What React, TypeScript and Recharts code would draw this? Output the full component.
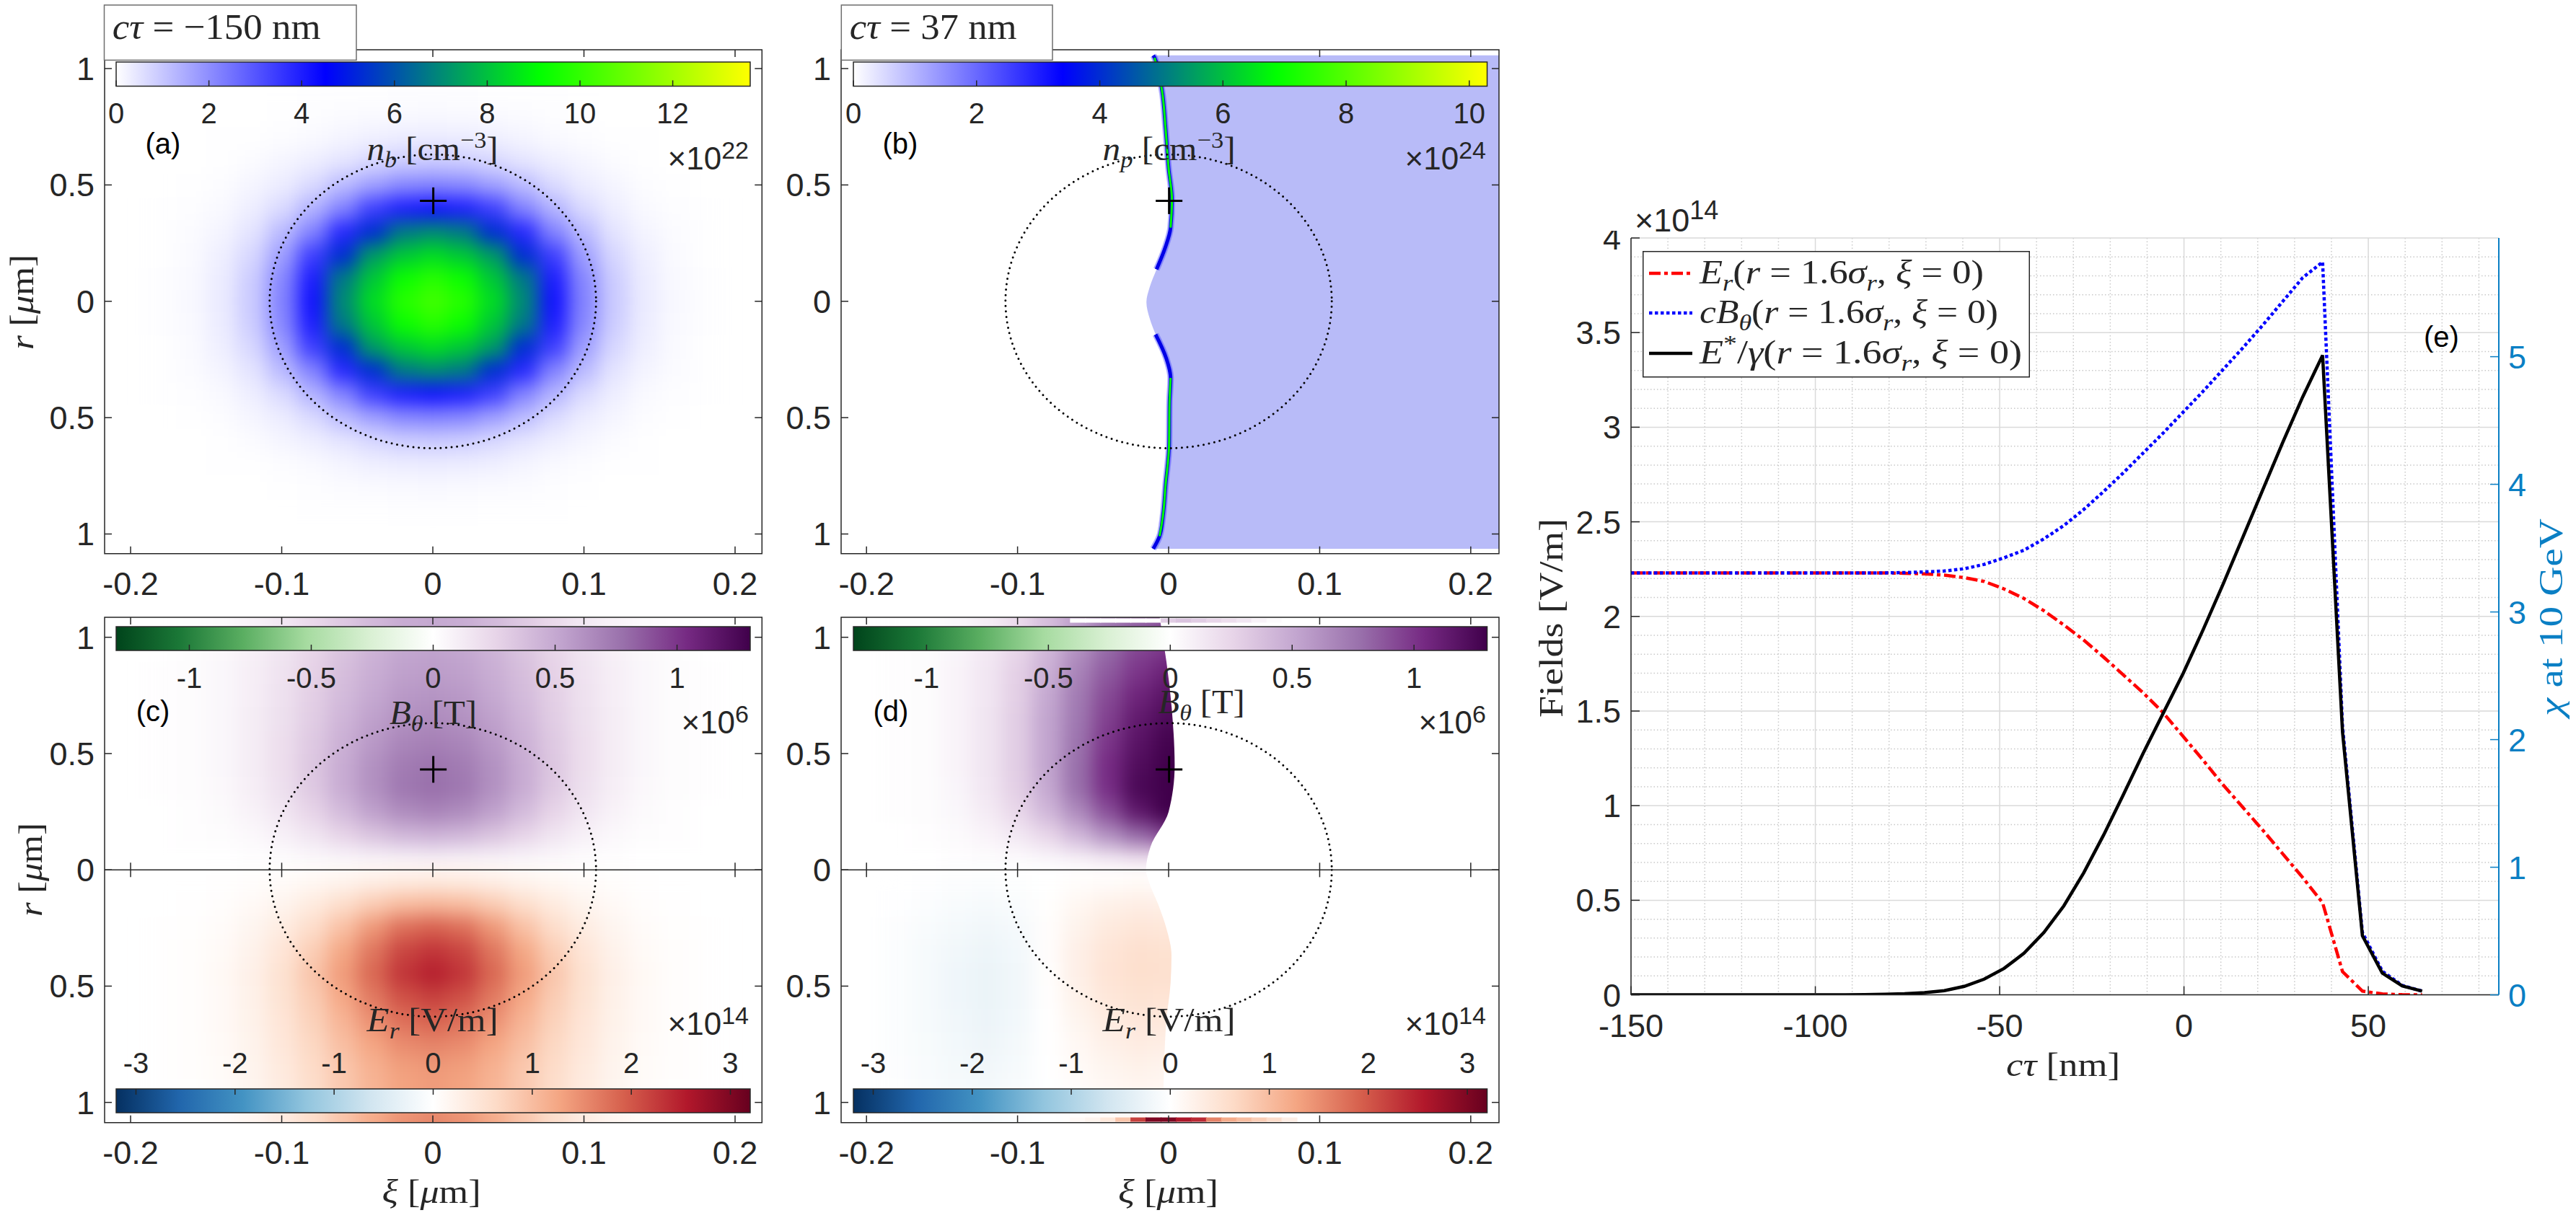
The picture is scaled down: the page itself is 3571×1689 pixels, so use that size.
import React from 'react';
import {
  ScatterChart, Scatter, ComposedChart, Line, Area, XAxis, YAxis, ReferenceArea, ReferenceLine,
  CartesianGrid, Legend
} from 'recharts';

const INK = '#262626';
const SANS = '"Liberation Sans", Arial, sans-serif';
const SERIF = '"Liberation Serif", serif';
const CHI = '#0a7fc4';

// ---- heat map tables ----
// panel (a): n_b / 1e22, quarter of the blob (|xi| columns, |r| rows)
const aCols = [0, 0.02, 0.04, 0.06, 0.08, 0.1, 0.12, 0.14, 0.16, 0.18];
const aRs = [0, 0.1, 0.2, 0.3, 0.4, 0.5, 0.6, 0.7, 0.8, 0.9];
const aRows = [
  [10.3, 9.8, 8.5, 7.0, 4.2, 2.2, 0.93, 0.36, 0.12, 0.03],
  [9.8, 9.3, 8.1, 6.7, 4.0, 2.1, 0.88, 0.33, 0.11, 0.03],
  [8.5, 8.1, 7.3, 5.3, 3.4, 1.7, 0.7, 0.28, 0.09, 0.02],
  [7.0, 6.7, 5.3, 3.8, 2.2, 1.2, 0.48, 0.2, 0.07, 0.01],
  [4.2, 4.0, 3.4, 2.2, 1.35, 0.65, 0.3, 0.11, 0.04, 0.01],
  [2.2, 2.1, 1.7, 1.2, 0.65, 0.33, 0.17, 0.06, 0.01, 0],
  [0.93, 0.88, 0.7, 0.48, 0.3, 0.17, 0.07, 0.02, 0, 0],
  [0.36, 0.33, 0.28, 0.2, 0.11, 0.06, 0.02, 0.01, 0, 0],
  [0.12, 0.11, 0.09, 0.07, 0.04, 0.01, 0, 0, 0, 0],
  [0.03, 0.03, 0.02, 0.01, 0.01, 0, 0, 0, 0, 0],
];

// panels (c), (d): rows at |r|
const fieldRs = [0.05, 0.15, 0.25, 0.35, 0.45, 0.55, 0.65, 0.75, 0.85, 0.95, 1.05, 1.15];
const cBRows = [
  [0.1, 0.09, 0.08, 0.06, 0.04, 0.02, 0.01, 0, 0, 0],
  [0.44, 0.42, 0.35, 0.26, 0.16, 0.09, 0.04, 0.02, 0.01, 0],
  [0.68, 0.64, 0.54, 0.4, 0.26, 0.15, 0.08, 0.03, 0.01, 0],
  [0.78, 0.74, 0.62, 0.48, 0.32, 0.19, 0.1, 0.04, 0.02, 0.01],
  [0.76, 0.72, 0.62, 0.48, 0.33, 0.2, 0.11, 0.05, 0.02, 0.01],
  [0.7, 0.67, 0.58, 0.46, 0.32, 0.2, 0.11, 0.05, 0.02, 0.01],
  [0.65, 0.62, 0.54, 0.43, 0.3, 0.19, 0.11, 0.05, 0.02, 0.01],
  [0.6, 0.58, 0.5, 0.4, 0.29, 0.18, 0.1, 0.05, 0.02, 0.01],
  [0.56, 0.54, 0.47, 0.38, 0.27, 0.17, 0.1, 0.05, 0.02, 0.01],
  [0.53, 0.51, 0.44, 0.35, 0.25, 0.16, 0.09, 0.04, 0.02, 0],
  [0.5, 0.48, 0.41, 0.32, 0.23, 0.14, 0.08, 0.03, 0.01, 0],
  [0.5, 0.48, 0.41, 0.32, 0.23, 0.14, 0.08, 0.03, 0.01, 0],
];
const cERows = [
  [0.35, 0.33, 0.28, 0.2, 0.12, 0.07, 0.03, 0.01, 0, 0],
  [1.05, 1.0, 0.82, 0.58, 0.36, 0.2, 0.1, 0.04, 0.01, 0],
  [1.9, 1.78, 1.4, 0.96, 0.6, 0.34, 0.17, 0.07, 0.02, 0.01],
  [2.3, 2.15, 1.72, 1.25, 0.8, 0.46, 0.23, 0.09, 0.03, 0.01],
  [2.5, 2.3, 1.85, 1.36, 0.9, 0.52, 0.26, 0.11, 0.04, 0.01],
  [2.2, 2.05, 1.68, 1.24, 0.82, 0.5, 0.25, 0.1, 0.04, 0.01],
  [1.9, 1.78, 1.48, 1.1, 0.75, 0.46, 0.24, 0.1, 0.03, 0.01],
  [1.6, 1.52, 1.28, 0.98, 0.68, 0.42, 0.22, 0.09, 0.03, 0.01],
  [1.4, 1.34, 1.14, 0.88, 0.62, 0.38, 0.2, 0.08, 0.03, 0.01],
  [1.35, 1.28, 1.1, 0.85, 0.58, 0.35, 0.18, 0.07, 0.02, 0.01],
  [1.55, 1.45, 1.2, 0.9, 0.58, 0.33, 0.16, 0.06, 0.02, 0],
  [1.55, 1.45, 1.2, 0.9, 0.58, 0.33, 0.16, 0.06, 0.02, 0],
];
const dCols = [-0.18, -0.16, -0.14, -0.12, -0.1, -0.08, -0.06, -0.04, -0.02, 0, 0.02];
const dBRows = [
  [0, 0, 0.01, 0.02, 0.03, 0.06, 0.1, 0.16, 0.22, 0.22, 0.22],
  [0, 0.01, 0.03, 0.07, 0.14, 0.25, 0.42, 0.62, 0.8, 0.95, 0.95],
  [0.01, 0.02, 0.05, 0.12, 0.24, 0.42, 0.65, 0.9, 1.15, 1.3, 1.3],
  [0.01, 0.02, 0.06, 0.15, 0.29, 0.5, 0.78, 1.03, 1.25, 1.35, 1.35],
  [0.01, 0.02, 0.07, 0.16, 0.3, 0.52, 0.78, 1.04, 1.22, 1.32, 1.32],
  [0.01, 0.02, 0.07, 0.16, 0.3, 0.52, 0.76, 1.0, 1.18, 1.28, 1.28],
  [0.01, 0.02, 0.07, 0.16, 0.3, 0.52, 0.74, 0.96, 1.14, 1.24, 1.24],
  [0.01, 0.02, 0.07, 0.15, 0.29, 0.5, 0.72, 0.92, 1.08, 1.18, 1.18],
  [0.01, 0.02, 0.07, 0.15, 0.28, 0.46, 0.68, 0.86, 1.0, 1.1, 1.1],
  [0.01, 0.02, 0.06, 0.13, 0.25, 0.42, 0.62, 0.8, 0.94, 1.0, 1.0],
  [0.01, 0.01, 0.05, 0.11, 0.22, 0.38, 0.55, 0.72, 0.82, 0.9, 0.9],
  [0.01, 0.01, 0.05, 0.11, 0.22, 0.38, 0.55, 0.72, 0.82, 0.9, 0.9],
];
const dERows = [
  [0, -0.02, -0.04, -0.05, -0.03, 0, 0.03, 0.05, 0.08, 0.05, 0.05],
  [-0.02, -0.06, -0.1, -0.12, -0.08, 0.02, 0.15, 0.25, 0.3, 0.28, 0.28],
  [-0.04, -0.1, -0.16, -0.2, -0.14, 0.03, 0.22, 0.38, 0.45, 0.42, 0.42],
  [-0.05, -0.12, -0.2, -0.25, -0.18, 0.03, 0.28, 0.46, 0.55, 0.52, 0.52],
  [-0.06, -0.13, -0.22, -0.28, -0.2, 0.02, 0.28, 0.48, 0.56, 0.55, 0.55],
  [-0.06, -0.13, -0.22, -0.28, -0.2, 0.01, 0.24, 0.42, 0.5, 0.48, 0.48],
  [-0.06, -0.13, -0.2, -0.26, -0.18, 0, 0.18, 0.34, 0.42, 0.4, 0.4],
  [-0.05, -0.11, -0.18, -0.24, -0.15, 0, 0.13, 0.26, 0.33, 0.3, 0.3],
  [-0.04, -0.1, -0.16, -0.2, -0.13, 0, 0.09, 0.18, 0.24, 0.2, 0.2],
  [-0.03, -0.08, -0.13, -0.16, -0.1, -0.01, 0.05, 0.12, 0.16, 0.14, 0.14],
  [-0.02, -0.05, -0.08, -0.1, -0.06, -0.01, 0.03, 0.08, 0.1, 0.08, 0.08],
  [-0.02, -0.05, -0.08, -0.1, -0.06, -0.01, 0.03, 0.08, 0.1, 0.08, 0.08],
];
// thin strips at the top and bottom edge of panel (d)
const stripXi = [-0.06, -0.05, -0.04, -0.03, -0.02, -0.01, 0, 0.01, 0.02, 0.03, 0.04, 0.05, 0.06, 0.07, 0.08];
const stripTopB = [0, 0, 0, 0, 0, 0, 0.3, 0.35, 0.3, 0.25, 0.2, 0.15, 0.08, 0.03, 0];
const stripBottomE = [0.1, 0.2, 0.4, 0.9, 2.2, 3.0, 3.0, 2.6, 2.4, 1.6, 1.2, 1.0, 0.8, 0.6, 0.3];

// panel (b): proton front position against r
const bRs = [1.06, 1.006, 0.921, 0.785, 0.615, 0.432, 0.326, 0.241, 0.139, 0.071, 0, -0.065, -0.141, -0.235, -0.32, -0.438, -0.574, -0.744, -0.914, -1.05, -1.06];
const bFront = [-0.0102, -0.006, -0.0038, -0.002, 0.0003, 0.0006, 0.0013, -0.0016, -0.0086, -0.0125, -0.0147, -0.0125, -0.008, -0.0022, 0.0013, 0.0022, 0, -0.002, -0.0045, -0.0093, -0.0102];
// panel (d): edge of the field behind the front
const dMaskRs = [1.09, 1.0, 0.825, 0.655, 0.485, 0.367, 0.248, 0.146, 0.044, 0, -0.1, -0.25, -0.45, -0.7, -1.09];
const dMaskFront = [-0.0086, -0.0038, -0.0029, -0.0016, 0.0013, 0.0019, -0.0016, -0.007, -0.0134, -0.015, -0.012, 0.0, 0.004, 0.002, -0.006];

// panel (e)
const tau = [-150, -92, -86.6, -81.2, -75.8, -70.4, -65, -59.6, -54.2, -48.8, -43.4, -38, -32.6, -27.2, -21.8, -16.4, -11, -5.6, -0.2, 5.2, 10.6, 16, 21.4, 26.8, 32.2, 37.6, 43, 48.4, 53.8, 59.2, 64.6];
const erField = [2.23, 2.23, 2.23, 2.23, 2.228, 2.225, 2.218, 2.205, 2.185, 2.145, 2.095, 2.03, 1.955, 1.875, 1.785, 1.69, 1.595, 1.49, 1.365, 1.24, 1.11, 0.99, 0.87, 0.745, 0.62, 0.487, 0.123, 0.02, 0.005, 0.001, 0];
const cbField = [2.23, 2.23, 2.23, 2.23, 2.232, 2.235, 2.24, 2.252, 2.275, 2.31, 2.35, 2.41, 2.48, 2.565, 2.66, 2.76, 2.865, 2.97, 3.08, 3.19, 3.305, 3.42, 3.54, 3.665, 3.79, 3.873, 1.42, 0.33, 0.125, 0.05, 0.02];
const eStar = [0, 0, 0.001, 0.003, 0.006, 0.012, 0.022, 0.045, 0.083, 0.14, 0.22, 0.33, 0.47, 0.645, 0.845, 1.06, 1.28, 1.49, 1.7, 1.93, 2.17, 2.42, 2.67, 2.92, 3.16, 3.38, 1.39, 0.313, 0.115, 0.047, 0.02];
const fieldTicks = [0, 0.5, 1, 1.5, 2, 2.5, 3, 3.5, 4];
const chiTicks = [0, 1, 2, 3, 4, 5];
const tauTicks = [-150, -100, -50, 0, 50];
const tauMinor = [-140, -130, -120, -110, -90, -80, -70, -60, -40, -30, -20, -10, 10, 20, 30, 40, 60, 70, 80];
const fieldMinor = [0.1, 0.2, 0.3, 0.4, 0.6, 0.7, 0.8, 0.9, 1.1, 1.2, 1.3, 1.4, 1.6, 1.7, 1.8, 1.9, 2.1, 2.2, 2.3, 2.4, 2.6, 2.7, 2.8, 2.9, 3.1, 3.2, 3.3, 3.4, 3.6, 3.7, 3.8, 3.9];

const xiTicks = [-0.2, -0.1, 0, 0.1, 0.2];
const rTicks = [-1, -0.5, 0, 0.5, 1];

// ---- colour maps ----
const densityStops: [number, string][] = [[0, '#ffffff'], [0.33, '#0000ff'], [0.667, '#00ff00'], [1, '#ffff00']];
const prgnStops: [number, string][] = [[0, '#00441b'], [0.1, '#1b7837'], [0.2, '#5aae61'], [0.3, '#a6dba0'], [0.4, '#d9f0d3'], [0.5, '#ffffff'], [0.6, '#e7d4e8'], [0.7, '#c2a5cf'], [0.8, '#9970ab'], [0.9, '#762a83'], [1, '#40004b']];
const rdbuStops: [number, string][] = [[0, '#053061'], [0.1, '#2166ac'], [0.2, '#4393c3'], [0.3, '#92c5de'], [0.4, '#d1e5f0'], [0.5, '#ffffff'], [0.6, '#fddbc7'], [0.7, '#f4a582'], [0.8, '#d6604d'], [0.9, '#b2182b'], [1, '#67001f']];

const hex = (s: string) => [1, 3, 5].map((i) => parseInt(s.slice(i, i + 2), 16));
const colour = (stops: [number, string][], t: number) => {
  const f = Math.max(0, Math.min(1, t));
  for (let i = 1; i < stops.length; i++) {
    if (f <= stops[i][0]) {
      const a = hex(stops[i - 1][1]);
      const b = hex(stops[i][1]);
      const k = (f - stops[i - 1][0]) / (stops[i][0] - stops[i - 1][0]);
      return `rgb(${a.map((c, n) => Math.round(c + (b[n] - c) * k)).join(',')})`;
    }
  }
  return stops[stops.length - 1][1];
};
const densityA = (v: number) => colour(densityStops, v / 13.67);
const bMap = (v: number) => colour(prgnStops, 0.5 + v / 2.6);
const eMap = (v: number) => colour(rdbuStops, 0.5 + v / 6.4);

// ---- cell lists ----
const cellsMirrored = (cols: number[], rs: number[], rows: number[][], sides: number[]) => {
  const out: { xi: number; r: number; v: number }[] = [];
  rs.forEach((r, i) => cols.forEach((c, j) => {
    (c === 0 ? [0] : [c, -c]).forEach((xi) => {
      (r === 0 ? [1] : sides).forEach((s) => out.push({ xi, r: s * r, v: rows[i][j] }));
    });
  }));
  return out;
};
const cellsPlain = (cols: number[], rs: number[], rows: number[][], side: number) => {
  const out: { xi: number; r: number; v: number }[] = [];
  rs.forEach((r, i) => cols.forEach((xi, j) => out.push({ xi, r: side * r, v: rows[i][j] })));
  return out;
};

const topAxes = { T: 69.1, H: 698.7 };
const bottomAxes = { T: 855.7, H: 700.7 };
const leftCol = { L: 144.5, W: 911.3, xd: [-0.2172, 0.2178] as [number, number] };
const midCol = { L: 1166.3, W: 912, xd: [-0.2168, 0.2187] as [number, number] };
const topYd: [number, number] = [-1.0843, 1.0809];
const botYd: [number, number] = [-1.0868, 1.0859];
const ML = 100, MT = 10, MR = 10, MB = 70;

type Box = { L: number; T: number; W: number; H: number; xd: [number, number]; yd: [number, number] };

const place = (b: Box): React.CSSProperties => ({ position: 'absolute', left: b.L - ML, top: b.T - MT });

const HeatLayer = ({ b, sets, cw, ch, cls }: { b: Box; sets: { cells: any[]; map: (v: number) => string }[]; cw: number; ch: number; cls: string }) => (
  <div style={place(b)} className={cls}>
    <ScatterChart width={ML + b.W + MR} height={MT + b.H + MB} margin={{ top: MT, left: ML, right: MR, bottom: MB }}>
      <XAxis hide type="number" dataKey="xi" domain={b.xd} allowDataOverflow />
      <YAxis hide type="number" dataKey="r" domain={b.yd} allowDataOverflow />
      {sets.map((s, i) => (
        <Scatter
          key={i}
          data={s.cells}
          isAnimationActive={false}
          shape={(p: any) => (
            <rect x={p.cx - cw / 2 - 0.5} y={p.cy - ch / 2 - 0.5} width={cw + 1} height={ch + 1} fill={s.map(p.payload.v)} />
          )}
        />
      ))}
    </ScatterChart>
  </div>
);

const FrontLayer = ({ b, data, area, lines }: { b: Box; data: any[]; area: { fill: string; to: number }; lines?: { data: any[]; stroke: string; width: number; opacity?: number }[] }) => (
  <div style={place(b)}>
    <ComposedChart layout="vertical" data={data} width={ML + b.W + MR} height={MT + b.H + MB} margin={{ top: MT, left: ML, right: MR, bottom: MB }}>
      <XAxis hide type="number" domain={b.xd} allowDataOverflow />
      <YAxis hide type="number" dataKey="r" domain={b.yd} allowDataOverflow />
      <Area
        type="monotone"
        dataKey={(d: any) => [d.front, area.to]}
        fill={area.fill}
        fillOpacity={1}
        stroke="none"
        isAnimationActive={false}
      />
      {(lines || []).map((l, i) => (
        <Line key={i} data={l.data} type="monotone" dataKey="front" stroke={l.stroke} strokeWidth={l.width} strokeOpacity={l.opacity ?? 1} dot={false} isAnimationActive={false} />
      ))}
    </ComposedChart>
  </div>
);

const Frame = ({ b, split }: { b: Box; split?: boolean }) => {
  const bottom = MT + b.H;
  const right = ML + b.W;
  const mid = MT + b.H / 2;
  const xTick = (p: any) => (
    <g>
      <line x1={p.x} x2={p.x} y1={bottom} y2={bottom - 10} stroke={INK} strokeWidth={1.5} />
      <line x1={p.x} x2={p.x} y1={MT} y2={MT + 10} stroke={INK} strokeWidth={1.5} />
      {split ? <line x1={p.x} x2={p.x} y1={mid - 10} y2={mid + 10} stroke={INK} strokeWidth={1.5} /> : null}
      <text x={p.x} y={bottom + 57} textAnchor="middle" fontFamily={SANS} fontSize={45} fill={INK}>{p.payload.value}</text>
    </g>
  );
  const yTick = (p: any) => (
    <g>
      <line x1={ML} x2={ML + 10} y1={p.y} y2={p.y} stroke={INK} strokeWidth={1.5} />
      <line x1={right - 10} x2={right} y1={p.y} y2={p.y} stroke={INK} strokeWidth={1.5} />
      <text x={ML - 14} y={p.y + 16} textAnchor="end" fontFamily={SANS} fontSize={45} fill={INK}>{Math.abs(p.payload.value)}</text>
    </g>
  );
  return (
    <div style={place(b)}>
      <ScatterChart width={ML + b.W + MR} height={MT + b.H + MB} margin={{ top: MT, left: 0, right: MR, bottom: 0 }}>
        <XAxis type="number" dataKey="xi" domain={b.xd} allowDataOverflow ticks={xiTicks} interval={0} height={MB} tick={xTick} tickLine={false} axisLine={false} />
        <YAxis type="number" dataKey="r" domain={b.yd} allowDataOverflow ticks={rTicks} interval={0} width={ML} tick={yTick} tickLine={false} axisLine={false} />
        <ReferenceArea
          x1={-0.108} x2={0.108} y1={-0.631} y2={0.631}
          shape={(p: any) => (
            <ellipse cx={p.x + p.width / 2} cy={p.y + p.height / 2} rx={p.width / 2} ry={p.height / 2} fill="none" stroke="#000" strokeWidth={3} strokeLinecap="round" strokeDasharray="0 7.6" />
          )}
        />
        <ReferenceArea x1={b.xd[0]} x2={b.xd[1]} y1={b.yd[0]} y2={b.yd[1]} fill="none" fillOpacity={0} stroke={INK} strokeWidth={1.5} />
        {split ? <ReferenceLine y={0} stroke={INK} strokeWidth={1.5} /> : null}
        <Scatter
          data={[{ xi: 0.0003, r: 0.432 }]}
          isAnimationActive={false}
          shape={(p: any) => (
            <g stroke="#000" strokeWidth={3}>
              <line x1={p.cx - 18.5} x2={p.cx + 18.5} y1={p.cy} y2={p.cy} />
              <line x1={p.cx} x2={p.cx} y1={p.cy - 18.5} y2={p.cy + 18.5} />
            </g>
          )}
        />
      </ScatterChart>
    </div>
  );
};

const ColorBar = ({ id, left, top, width, height, domain, ticks, stops, above }: { id: string; left: number; top: number; width: number; height: number; domain: [number, number]; ticks: number[]; stops: [number, string][]; above?: boolean }) => {
  const PAD = 60;
  const tick = (p: any) => (
    <g>
      <line x1={p.x} x2={p.x} y1={above ? PAD : PAD + height} y2={above ? PAD + 8 : PAD + height - 8} stroke={INK} strokeWidth={1.5} />
      <text x={p.x} y={above ? PAD - 22 : PAD + height + 52} textAnchor="middle" fontFamily={SANS} fontSize={40} fill={INK}>{p.payload.value}</text>
    </g>
  );
  return (
    <div style={{ position: 'absolute', left: left - PAD, top: top - PAD }}>
      <ComposedChart width={width + 2 * PAD} height={height + 2 * PAD} margin={{ top: PAD, left: PAD, right: PAD, bottom: 0 }}>
        <defs>
          <linearGradient id={id} x1="0" x2="1" y1="0" y2="0">
            {stops.map(([o, c]) => <stop key={o} offset={o} stopColor={c} />)}
          </linearGradient>
        </defs>
        <XAxis type="number" dataKey="v" domain={domain} allowDataOverflow ticks={ticks} interval={0} height={PAD} tick={tick} tickLine={false} axisLine={false} />
        <YAxis hide type="number" domain={[0, 1]} allowDataOverflow />
        <ReferenceArea x1={domain[0]} x2={domain[1]} y1={0} y2={1} fill={`url(#${id})`} fillOpacity={1} stroke={INK} strokeWidth={1.5} />
      </ComposedChart>
    </div>
  );
};

// text with sub and superscripts: [text, kind], kinds r roman, i italic, s sub, t sup
const MathText = ({ x, y, size, w, parts, fill = INK, rotate }: { x: number; y: number; size: number; w?: number; parts: [string, string][]; fill?: string; rotate?: boolean }) => {
  let shift = 0;
  return (
    <text
      x={rotate ? 0 : x}
      y={rotate ? 0 : y}
      transform={rotate ? `translate(${x} ${y}) rotate(-90)` : undefined}
      fontFamily={SERIF}
      fontSize={size}
      fill={fill}
      textLength={w}
      lengthAdjust={w ? 'spacingAndGlyphs' : undefined}
      xmlSpace="preserve"
    >
      {parts.map(([t, k], i) => {
        const target = k === 's' ? size * 0.22 : k === 't' ? -size * 0.38 : 0;
        const dy = target - shift;
        shift = target;
        return (
          <tspan key={i} dy={dy} fontStyle={k === 'i' || k === 's' ? 'italic' : 'normal'} fontSize={k === 's' || k === 't' ? size * 0.7 : size}>{t}</tspan>
        );
      })}
    </text>
  );
};

const Exponent = ({ right, y, exp }: { right: number; y: number; exp: string }) => (
  <text x={right} y={y} textAnchor="end" fontFamily={SANS} fontSize={44} fill={INK}>
    <tspan>×10</tspan><tspan dy={-15} fontSize={34}>{exp}</tspan>
  </text>
);

const legendRows: { stroke: string; dash?: string; parts: [string, string][]; w: number; y: number }[] = [
  { stroke: '#ff0000', dash: '16 5 5 5', w: 394, y: 31, parts: [['E', 'i'], ['r', 's'], ['(', 'r'], ['r', 'i'], [' = 1.6', 'r'], ['σ', 'i'], ['r', 's'], [', ', 'r'], ['ξ', 'i'], [' = 0)', 'r']] },
  { stroke: '#0000ff', dash: '4.5 3.5', w: 414, y: 86, parts: [['cB', 'i'], ['θ', 's'], ['(', 'r'], ['r', 'i'], [' = 1.6', 'r'], ['σ', 'i'], ['r', 's'], [', ', 'r'], ['ξ', 'i'], [' = 0)', 'r']] },
  { stroke: '#000000', w: 447, y: 142, parts: [['E', 'i'], ['*', 't'], ['/', 'r'], ['γ', 'i'], ['(', 'r'], ['r', 'i'], [' = 1.6', 'r'], ['σ', 'i'], ['r', 's'], [', ', 'r'], ['ξ', 'i'], [' = 0)', 'r']] },
];

const FieldLegend = () => (
  <svg width={537} height={176} style={{ display: 'block' }}>
    <rect x={0.75} y={0.75} width={535.5} height={174} fill="#fff" stroke={INK} strokeWidth={1.5} />
    {legendRows.map((l) => (
      <g key={l.w}>
        <line x1={9} x2={69} y1={l.y} y2={l.y} stroke={l.stroke} strokeWidth={4.5} strokeDasharray={l.dash} />
        <MathText x={79} y={l.y + 14} size={46} w={l.w} parts={l.parts} />
      </g>
    ))}
  </svg>
);

const FieldsChart = () => {
  const data = tau.map((t, i) => ({ t, er: erField[i], cb: cbField[i], es: eStar[i] }));
  const L = 2260.5, T = 330.4, W = 1203, H = 1049.6;
  const YW = 120, RW = 100, XH = 80;
  const bottom = 10 + H;
  const xTick = (p: any) => (
    <g>
      <line x1={p.x} x2={p.x} y1={bottom} y2={bottom - 12} stroke={INK} strokeWidth={1.5} />
      <text x={p.x} y={bottom + 58} textAnchor="middle" fontFamily={SANS} fontSize={45} fill={INK}>{p.payload.value}</text>
    </g>
  );
  const leftTick = (p: any) => (
    <g>
      <line x1={YW} x2={YW + 12} y1={p.y} y2={p.y} stroke={INK} strokeWidth={1.5} />
      <text x={YW - 14} y={p.y + 16} textAnchor="end" fontFamily={SANS} fontSize={45} fill={INK}>{p.payload.value}</text>
    </g>
  );
  const rightTick = (p: any) => (
    <g>
      <line x1={YW + W} x2={YW + W - 12} y1={p.y} y2={p.y} stroke={CHI} strokeWidth={1.5} />
      <text x={YW + W + 13} y={p.y + 16} textAnchor="start" fontFamily={SANS} fontSize={45} fill={CHI}>{p.payload.value}</text>
    </g>
  );
  return (
    <div style={{ position: 'absolute', left: L - YW, top: T - 10 }}>
      <ComposedChart data={data} width={YW + W + RW} height={10 + H + XH} margin={{ top: 10, left: 0, right: 0, bottom: 0 }}>
        <XAxis type="number" dataKey="t" domain={[-150, 85.4]} allowDataOverflow ticks={tauTicks} interval={0} height={XH} tick={xTick} tickLine={false} axisLine={{ stroke: INK, strokeWidth: 1.5 }} />
        <YAxis yAxisId="left" type="number" domain={[0, 4]} allowDataOverflow ticks={fieldTicks} interval={0} width={YW} tick={leftTick} tickLine={false} axisLine={{ stroke: INK, strokeWidth: 1.5 }} />
        <YAxis yAxisId="right" orientation="right" type="number" domain={[0, 5.93]} allowDataOverflow ticks={chiTicks} interval={0} width={RW} tick={rightTick} tickLine={false} axisLine={{ stroke: CHI, strokeWidth: 2 }} />
        <CartesianGrid yAxisId="left" horizontalValues={fieldMinor} verticalValues={tauMinor} stroke="#c9c9c9" strokeWidth={1.5} strokeDasharray="1.5 3" />
        <CartesianGrid yAxisId="left" horizontalValues={fieldTicks} verticalValues={tauTicks} stroke="#d9d9d9" strokeWidth={1.5} />
        <Legend
          layout="horizontal"
          verticalAlign="middle"
          align="center"
          content={() => <FieldLegend />}
          wrapperStyle={{ position: 'absolute', left: 2277 - (L - YW), top: 348 - (T - 10), width: 537, height: 176 }}
        />
        <Line yAxisId="left" dataKey="er" stroke="#ff0000" strokeWidth={4.5} strokeDasharray="16 5 5 5" dot={false} isAnimationActive={false} />
        <Line yAxisId="left" dataKey="cb" stroke="#0000ff" strokeWidth={4.5} strokeDasharray="4.5 3.5" dot={false} isAnimationActive={false} />
        <Line yAxisId="left" dataKey="es" stroke="#000000" strokeWidth={4.5} dot={false} isAnimationActive={false} />
      </ComposedChart>
    </div>
  );
};

const aBox: Box = { L: leftCol.L, W: leftCol.W, T: topAxes.T, H: topAxes.H, xd: leftCol.xd, yd: topYd };
const bBox: Box = { L: midCol.L, W: midCol.W, T: topAxes.T, H: topAxes.H, xd: midCol.xd, yd: topYd };
const cBox: Box = { L: leftCol.L, W: leftCol.W, T: bottomAxes.T, H: bottomAxes.H, xd: leftCol.xd, yd: botYd };
const dBox: Box = { L: midCol.L, W: midCol.W, T: bottomAxes.T, H: bottomAxes.H, xd: midCol.xd, yd: botYd };

const aCells = cellsMirrored(aCols, aRs, aRows, [1, -1]);
const cTop = cellsMirrored(aCols, fieldRs, cBRows, [1]);
const cBot = cellsMirrored(aCols, fieldRs, cERows, [-1]);
const dTop = cellsPlain(dCols, fieldRs, dBRows, 1);
const dBot = cellsPlain(dCols, fieldRs, dERows, -1);
const bTable = bRs.map((r, i) => ({ r, front: bFront[i] }));
const bAscending = [...bTable].reverse();
const dMask = dMaskRs.map((r, i) => ({ r, front: dMaskFront[i] })).reverse();
const dStripTop = stripXi.map((xi, i) => ({ xi, r: 1.072, v: stripTopB[i] }));
const dStripBottom = stripXi.map((xi, i) => ({ xi, r: -1.074, v: stripBottomE[i] }));

// stretches of the front in panel (b) where the density peak shows
const edgeTop = bTable.slice(0, 9);
const edgeBottom = bTable.slice(12, 21);
const coreTop = bTable.slice(1, 7);
const coreBottom = bTable.slice(14, 20);

const boxedTitle = (x: number, w: number, tx: number, tw: number, parts: [string, string][]) => (
  <g>
    <rect x={x} y={7} width={w} height={76.4} fill="#fff" stroke="#6e6e6e" strokeWidth={1.5} />
    <MathText x={tx} y={54} size={50} w={tw} parts={parts} />
  </g>
);

export default function App() {
  return (
    <div style={{ position: 'absolute', left: 0, top: 0, width: 3571, height: 1689, background: '#fff', overflow: 'hidden' }}>
      <style>{`
        .heatTop .recharts-scatter { filter: url(#heatBlur); clip-path: url(#clipTop); }
        .heatBot .recharts-scatter { filter: url(#heatBlur); clip-path: url(#clipBot); }
      `}</style>
      <svg width={0} height={0} style={{ position: 'absolute' }}>
        <defs>
          <filter id="heatBlur" x="-10%" y="-10%" width="120%" height="120%" colorInterpolationFilters="sRGB">
            <feGaussianBlur stdDeviation="13" />
          </filter>
          <clipPath id="clipTop"><rect x={ML} y={MT} width={912} height={topAxes.H} /></clipPath>
          <clipPath id="clipBot"><rect x={ML} y={MT} width={912} height={bottomAxes.H} /></clipPath>
        </defs>
      </svg>

      <HeatLayer b={aBox} cls="heatTop" cw={41.9} ch={32.3} sets={[{ cells: aCells, map: densityA }]} />
      <FrontLayer
        b={bBox}
        data={bAscending}
        area={{ fill: '#b8bbf8', to: 0.2187 }}
        lines={[
          { data: edgeTop, stroke: '#3a3aff', width: 9, opacity: 0.4 },
          { data: edgeBottom, stroke: '#3a3aff', width: 9, opacity: 0.4 },
          { data: edgeTop, stroke: '#0000e6', width: 5 },
          { data: edgeBottom, stroke: '#0000e6', width: 5 },
          { data: coreTop, stroke: '#00ff00', width: 3 },
          { data: coreBottom, stroke: '#00ff00', width: 3 },
        ]}
      />
      <HeatLayer b={cBox} cls="heatBot" cw={41.9} ch={32.3} sets={[{ cells: cTop, map: bMap }, { cells: cBot, map: eMap }]} />
      <HeatLayer b={dBox} cls="heatBot" cw={41.9} ch={32.3} sets={[{ cells: dTop, map: bMap }, { cells: dBot, map: eMap }]} />
      <FrontLayer b={dBox} data={dMask} area={{ fill: '#ffffff', to: 0.2187 }} />
      <HeatLayer b={dBox} cls="" cw={21} ch={5} sets={[{ cells: dStripTop, map: bMap }, { cells: dStripBottom, map: eMap }]} />

      <Frame b={aBox} />
      <Frame b={bBox} />
      <Frame b={cBox} split />
      <Frame b={dBox} split />

      <ColorBar id="cbA" left={161.3} top={85.6} width={879} height={33.4} domain={[0, 13.67]} ticks={[0, 2, 4, 6, 8, 10, 12]} stops={densityStops} />
      <ColorBar id="cbB" left={1183} top={85.6} width={878.6} height={33.4} domain={[0, 10.29]} ticks={[0, 2, 4, 6, 8, 10]} stops={densityStops} />
      <ColorBar id="cbC1" left={161.3} top={868.9} width={879} height={32.9} domain={[-1.3, 1.3]} ticks={[-1, -0.5, 0, 0.5, 1]} stops={prgnStops} />
      <ColorBar id="cbC2" left={161.3} top={1510.4} width={879} height={32.9} domain={[-3.2, 3.2]} ticks={[-3, -2, -1, 0, 1, 2, 3]} stops={rdbuStops} above />
      <ColorBar id="cbD1" left={1183} top={868.9} width={878.6} height={32.9} domain={[-1.3, 1.3]} ticks={[-1, -0.5, 0, 0.5, 1]} stops={prgnStops} />
      <ColorBar id="cbD2" left={1183} top={1510.4} width={878.6} height={32.9} domain={[-3.2, 3.2]} ticks={[-3, -2, -1, 0, 1, 2, 3]} stops={rdbuStops} above />

      <FieldsChart />

      <svg width={3571} height={1689} style={{ position: 'absolute', left: 0, top: 0, pointerEvents: 'none' }}>
        {boxedTitle(144.5, 349.5, 155.7, 289, [['cτ', 'i'], [' = −150 nm', 'r']])}
        {boxedTitle(1166.3, 292.7, 1177.7, 232, [['cτ', 'i'], [' = 37 nm', 'r']])}

        {[
          { x: 226, y: 213, t: '(a)' }, { x: 1248, y: 213, t: '(b)' },
          { x: 212, y: 1000, t: '(c)' }, { x: 1235, y: 1000, t: '(d)' }, { x: 3384.5, y: 481, t: '(e)' },
        ].map((l) => (
          <text key={l.t} x={l.x} y={l.y} textAnchor="middle" fontFamily={SANS} fontSize={40} fill="#000">{l.t}</text>
        ))}

        <MathText x={508.6} y={222} size={46} w={182} parts={[['n', 'i'], ['b', 's'], [' [cm', 'r'], ['−3', 't'], [']', 'r']]} />
        <MathText x={1528.6} y={222} size={46} w={184} parts={[['n', 'i'], ['p', 's'], [' [cm', 'r'], ['−3', 't'], [']', 'r']]} />
        <MathText x={540} y={1004} size={46} w={121} parts={[['B', 'i'], ['θ', 's'], [' [T]', 'r']]} />
        <MathText x={1605.6} y={989} size={46} w={120} parts={[['B', 'i'], ['θ', 's'], [' [T]', 'r']]} />
        <MathText x={508.6} y={1430} size={46} w={182} parts={[['E', 'i'], ['r', 's'], [' [V/m]', 'r']]} />
        <MathText x={1528.6} y={1430} size={46} w={184} parts={[['E', 'i'], ['r', 's'], [' [V/m]', 'r']]} />
        <MathText x={529.6} y={1668} size={46} w={137} parts={[['ξ', 'i'], [' [', 'r'], ['μ', 'i'], ['m]', 'r']]} />
        <MathText x={1550} y={1668} size={46} w={139} parts={[['ξ', 'i'], [' [', 'r'], ['μ', 'i'], ['m]', 'r']]} />
        <MathText x={46} y={485} size={46} w={132} rotate parts={[['r', 'i'], [' [', 'r'], ['μ', 'i'], ['m]', 'r']]} />
        <MathText x={58} y={1271} size={46} w={130} rotate parts={[['r', 'i'], [' [', 'r'], ['μ', 'i'], ['m]', 'r']]} />

        <Exponent right={1038} y={235} exp="22" />
        <Exponent right={2060} y={235} exp="24" />
        <Exponent right={1038} y={1017} exp="6" />
        <Exponent right={2060} y={1017} exp="6" />
        <Exponent right={1038} y={1435} exp="14" />
        <Exponent right={2060} y={1435} exp="14" />

        <text x={2266} y={321} fontFamily={SANS} fontSize={45} fill={INK}>
          <tspan>×10</tspan><tspan dy={-17} fontSize={36}>14</tspan>
        </text>
        <MathText x={2166} y={995} size={46} w={276} rotate parts={[['Fields [V/m]', 'r']]} />
        <MathText x={3552} y={993} size={46} w={274} rotate fill={CHI} parts={[['χ', 'i'], [' at 10 GeV', 'r']]} />
        <MathText x={2781} y={1492} size={46} w={158} parts={[['cτ', 'i'], [' [nm]', 'r']]} />
      </svg>
    </div>
  );
}
